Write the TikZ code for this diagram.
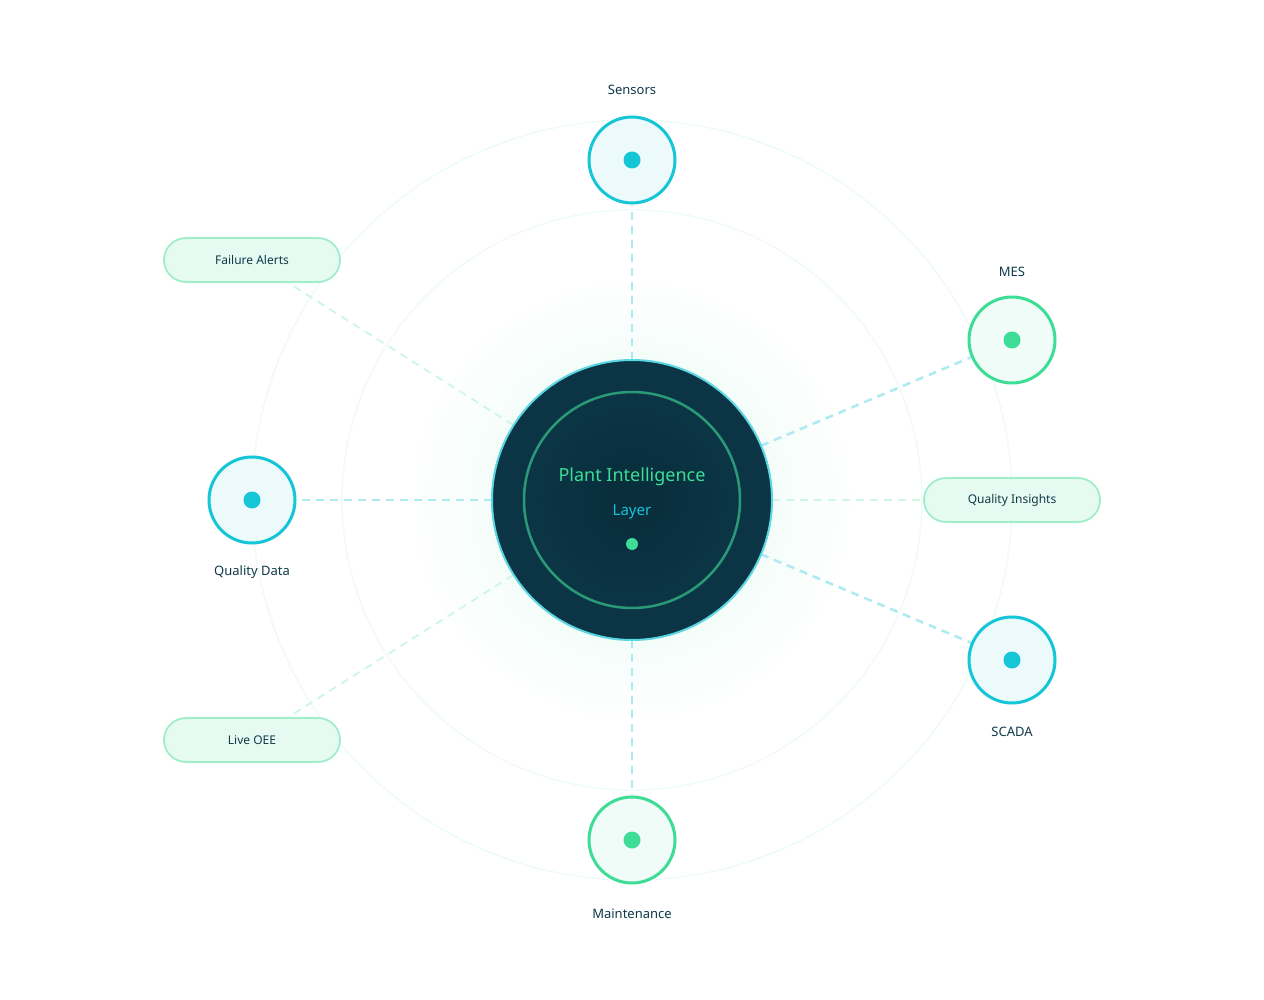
\documentclass[tikz,border=0pt]{standalone}
\usepackage{fontspec}
\setmainfont{Noto Sans}
\begin{document}
\definecolor{navy}{HTML}{0B3545}
\definecolor{cy}{HTML}{14C6D6}
\definecolor{gr}{HTML}{3DDC97}
\definecolor{tx}{HTML}{0E3A4A}
\begin{tikzpicture}[x=1pt,y=-1pt,
 sat/.style={circle,minimum size=86pt,line width=3pt,draw=#1,fill=#1!8,inner sep=0},
 dot/.style={circle,fill=#1,minimum size=17pt,inner sep=0},
 pill/.style={rounded corners=22pt,minimum width=176pt,minimum height=44pt,draw=gr!50,line width=1.8pt,fill=gr!13,font=\bfseries\fontsize{12}{14}\selectfont,text=tx},
 lab/.style={font=\bfseries\fontsize{13}{15}\selectfont,text=tx},
 link/.style={dashed,dash pattern=on 8pt off 6pt,line width=2.5pt,draw=cy!35},
 plink/.style={dashed,dash pattern=on 8pt off 6pt,line width=1.8pt,draw=gr!25}]
\useasboundingbox (0,0) rectangle (1264,1000);
\fill[white] (0,0) rectangle (1264,1000);
\shade[inner color=gr!14,outer color=white] (632,500) circle (230);
\draw[gr!10,line width=1.2pt] (632,500) circle (380);
\draw[gr!10,line width=1.2pt] (632,500) circle (290);
\coordinate (c) at (632,500);
\node[sat=cy] (sen) at (632,160) {};
\node[sat=gr] (mes) at (1012,340) {};
\node[sat=cy] (qd) at (252,500) {};
\node[sat=cy] (sc) at (1012,660) {};
\node[sat=gr] (mt) at (632,840) {};
\foreach \n in {sen,mes,qd,sc,mt} \draw[link] (c) -- (\n);
\coordinate (fa) at (252,260);
\coordinate (qi) at (1012,500);
\coordinate (lo) at (252,740);
\foreach \n in {fa,qi,lo} \draw[plink] (c) -- (\n);
\node[circle,minimum size=280pt,fill=navy,draw=cy!70,line width=2pt,inner sep=0] (core) at (c) {};
\shade[inner color=black!25!navy,outer color=navy,opacity=0.6] (c) circle (100);
\draw[gr!60!navy,line width=2.5pt] (c) circle (108);
\node[font=\bfseries\fontsize{18}{20}\selectfont,text=gr] (t1) at (632,477) {Plant Intelligence};
\node[font=\bfseries\fontsize{15}{17}\selectfont,text=cy] (t2) at (632,512) {Layer};
\node[dot=gr,minimum size=12pt] (cd) at (632,544) {};
\node[dot=cy] at (sen) {};
\node[dot=gr] at (mes) {};
\node[dot=cy] at (qd) {};
\node[dot=cy] at (sc) {};
\node[dot=gr] at (mt) {};
\node[pill] (pfa) at (fa) {Failure Alerts};
\node[pill] (pqi) at (qi) {Quality Insights};
\node[pill] (plo) at (lo) {Live OEE};
\node[lab] (l1) at (632,90) {Sensors};
\node[lab] (l2) at (1012,272) {MES};
\node[lab] (l3) at (252,572) {Quality Data};
\node[lab] (l4) at (1012,732) {SCADA};
\node[lab] (l5) at (632,914) {Maintenance};
\end{tikzpicture}
\end{document}
